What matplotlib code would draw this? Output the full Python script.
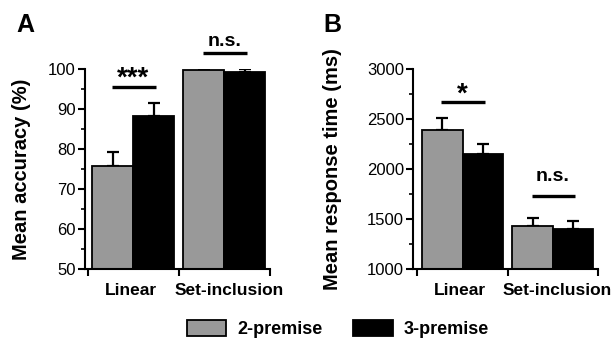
import matplotlib
matplotlib.use("Agg")
import matplotlib.pyplot as plt
from matplotlib.patches import Patch
import numpy as np

plt.rcParams['font.family'] = ['Liberation Sans', 'DejaVu Sans']

groups = ['Linear', 'Set-inclusion']
series = ['2-premise', '3-premise']
colors = ['#999999', '#000000']

# panel A: accuracy (%)
acc_mean = [[75.6, 99.8], [88.3, 99.3]]
acc_err = [[3.7, 0.1], [3.1, 0.6]]
# panel B: response time (ms)
rt_mean = [[2385, 1428], [2146, 1399]]
rt_err = [[120, 84], [106, 79]]

# significance marks: (group, line y, text baseline y, label, size)
acc_sig = [(0, 95.4, 95.9, '***', 20), (1, 103.9, 105.6, 'n.s.', 14)]
rt_sig = [(0, 2670, 2675, '*', 20), (1, 1730, 1880, 'n.s.', 14)]

width = 0.45
label_shift = [-0.03, 0.05]  # x tick labels sit a bit off the group centres


def draw_panel(ax, means, errs, sigs, ylim, yticks, minor, ylabel, xlim, labelx):
    x = np.arange(len(groups))
    for i in range(len(series)):
        pos = x + (i - 0.5) * width
        ax.bar(pos, means[i], width, color=colors[i], edgecolor='black',
               linewidth=1.3, zorder=2)
        ax.errorbar(pos, means[i], yerr=[np.zeros(len(groups)), errs[i]],
                    fmt='none', ecolor='black', elinewidth=1.6, capsize=4.3,
                    capthick=1.6, zorder=1)
    for g, ly, ty, lab, fs in sigs:
        ax.plot([g - 0.235, g + 0.25], [ly, ly], color='black', lw=2.4,
                clip_on=False, solid_capstyle='butt')
        ax.text(g, ty, lab, ha='center', va='baseline', fontsize=fs,
                fontweight='bold', clip_on=False)
    ax.set_ylim(*ylim)
    ax.set_xlim(*xlim)
    ax.set_yticks(yticks)
    ax.set_yticks(minor, minor=True)
    ax.set_xticks([-0.5, 0.5, 1.5])
    ax.set_xticklabels([])
    for i, g in enumerate(groups):
        ax.text(i + label_shift[i], -0.07, g, transform=ax.get_xaxis_transform(),
                ha='center', va='top', fontsize=12.5, fontweight='bold')
    ax.set_ylabel(ylabel, fontsize=14.5, fontweight='bold')
    ax.yaxis.set_label_coords(labelx, 0.5)
    ax.spines['top'].set_visible(False)
    ax.spines['right'].set_visible(False)
    ax.spines['left'].set_linewidth(1.5)
    ax.spines['bottom'].set_linewidth(1.5)
    ax.tick_params(axis='both', which='major', length=5, width=1.5,
                   labelsize=12, pad=1.5)
    ax.tick_params(axis='y', which='minor', length=3, width=1.2)


fig = plt.figure(figsize=(6.14, 3.39), dpi=100)
axA = fig.add_axes([0.1384, 0.207, 0.3013, 0.59])
axB = fig.add_axes([0.6726, 0.207, 0.3013, 0.59])

draw_panel(axA, acc_mean, acc_err, acc_sig, (50, 100),
           [50, 60, 70, 80, 90, 100], [55, 65, 75, 85, 95],
           'Mean accuracy (%)', (-0.53, 1.5), -0.29)
draw_panel(axB, rt_mean, rt_err, rt_sig, (1000, 3000),
           [1000, 1500, 2000, 2500, 3000], [1250, 1750, 2250, 2750],
           'Mean response time (ms)', (-0.55, 1.5), -0.385)

fig.text(0.041, 0.925, 'A', fontsize=18, fontweight='bold', ha='center', va='center')
fig.text(0.5415, 0.925, 'B', fontsize=18, fontweight='bold', ha='center', va='center')

handles = [Patch(facecolor=c, edgecolor='black', linewidth=1.3) for c in colors]
fig.legend(handles, series, loc='lower center', bbox_to_anchor=(0.55, -0.045),
           ncol=2, frameon=False, handlelength=2.2, handleheight=1.0,
           handletextpad=0.6, columnspacing=1.7,
           prop={'weight': 'bold', 'size': 13})

fig.savefig('out.png', dpi=100)
